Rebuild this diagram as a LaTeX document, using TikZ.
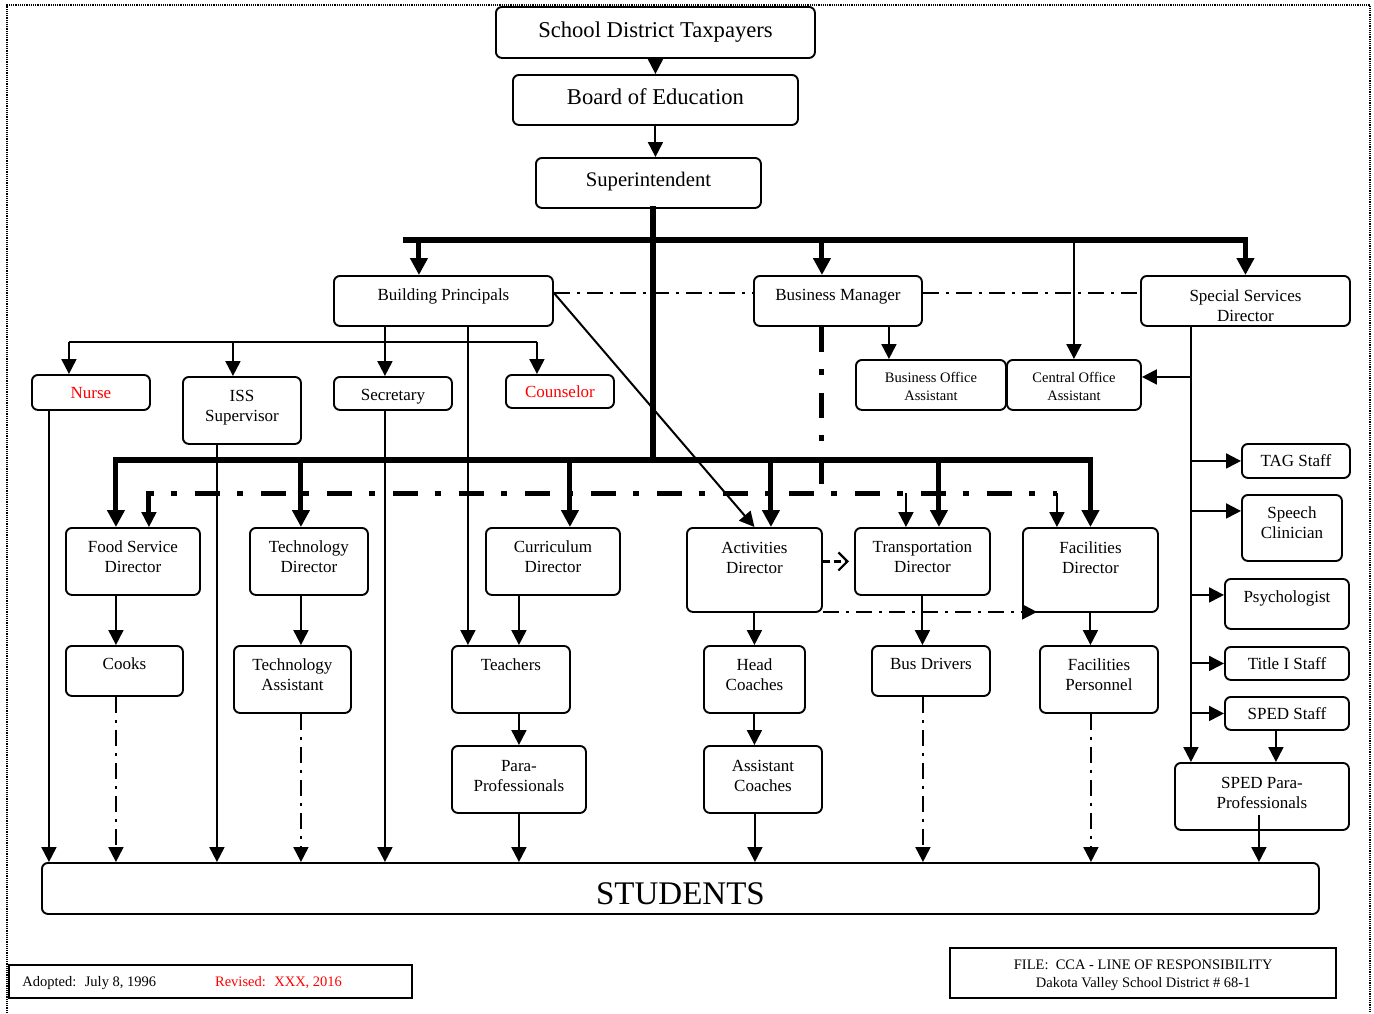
\documentclass[tikz,border=0pt]{standalone}
\usepackage{fontspec}
\setmainfont{Liberation Serif}
\usetikzlibrary{arrows.meta}

\newcommand{\bigfont}{\fontsize{22.6}{26}\selectfont}
\newcommand{\supfont}{\fontsize{20.7}{24}\selectfont}
\newcommand{\medfont}{\fontsize{17}{20}\selectfont}
\newcommand{\smlfont}{\fontsize{14.5}{18}\selectfont}
\newcommand{\stufont}{\fontsize{33}{38}\selectfont}

\begin{document}
\begin{tikzpicture}[x=1pt,y=-1pt,
  box/.style={draw, line width=1.9pt, rounded corners=6pt, align=center, inner sep=0pt,
    anchor=north west, font=\medfont, text height=25pt},
  footbox/.style={draw, line width=2.4pt, align=center, inner sep=0pt,
    anchor=north west, font=\smlfont, text height=21.5pt},
  ln/.style={line width=2pt},
  arr/.style={ln, -{Triangle[length=15pt,width=15pt]}},
  tarr/.style={line width=5pt, -{Triangle[length=17pt,width=17pt]}},
  bus/.style={line width=6pt, line cap=rect},
  dbus/.style={line width=5pt, dash pattern=on 25pt off 17pt on 6pt off 18pt},
  dd/.style={ln, dash pattern=on 16pt off 7pt on 3pt off 7pt},
  ddarr/.style={dd, -{Triangle[length=15pt,width=15pt]}},
  openarr/.style={line width=2.2pt, dash pattern=on 7pt off 4pt, shorten >=5pt,
    -{Straight Barb[length=9pt,width=18pt]}}]

\useasboundingbox (0,0) rectangle (1374,1013);
\draw[densely dotted, line width=1.2pt] (7,1013) -- (7,5) -- (1370,5) -- (1370,1013);

\coordinate (busA) at (653,240);
\coordinate (busB) at (653,460);
\coordinate (busC) at (653,493);
\coordinate (staffbus) at (384,342);

% top of the chart
\node[box, font=\bigfont, text height=31pt, text depth=20pt, minimum width=319pt] (tax) at (495,6) {School District Taxpayers};
\node[box, font=\bigfont, text height=30pt, text depth=20pt, minimum width=285pt] (board) at (512,74) {Board of Education};
\node[box, font=\supfont, text height=29pt, text depth=21pt, minimum width=225pt] (supt) at (535,157) {Superintendent};

\node[box, text depth=25pt, minimum width=219pt] (bp) at (333,275) {Building Principals};
\node[box, text depth=25pt, minimum width=168pt] (bm) at (753,275) {Business Manager};
\node[box, text height=46pt, text depth=4pt, minimum width=209pt] (ssd) at (1140,275) {Special Services\\Director};

\node[box, text=red, text height=24pt, text depth=11pt, minimum width=118pt] (nurse) at (31,374) {Nurse};
\node[box, text height=45pt, text depth=22pt, minimum width=118pt] (iss) at (182,376) {ISS\\Supervisor};
\node[box, text height=24pt, text depth=9pt, minimum width=118pt] (sec) at (333,376) {Secretary};
\node[box, text=red, text height=23pt, text depth=10pt, minimum width=108pt] (couns) at (505,374) {Counselor};

\node[box, font=\smlfont, text height=40.5pt, text depth=9.5pt, minimum width=150pt] (boa) at (855,359) {Business Office\\Assistant};
\node[box, font=\smlfont, text height=40.5pt, text depth=9.5pt, minimum width=134pt] (coa) at (1006,359) {Central Office\\Assistant};

\node[box, text height=23pt, text depth=11pt, minimum width=108pt] (tag) at (1241,443) {TAG Staff};
\node[box, text height=44pt, text depth=22pt, minimum width=100pt] (speech) at (1241,494) {Speech\\Clinician};
\node[box, text height=24pt, text depth=26pt, minimum width=124pt] (psych) at (1224,578) {Psychologist};
\node[box, text height=23pt, text depth=10pt, minimum width=124pt] (title) at (1224,646) {Title I Staff};
\node[box, text height=23pt, text depth=10pt, minimum width=124pt] (sped) at (1224,696) {SPED Staff};
\node[box, text height=46pt, text depth=21pt, minimum width=174pt] (spedpara) at (1174,762) {SPED Para-\\Professionals};

% directors
\node[box, text height=45pt, text depth=22pt, minimum width=134pt] (food) at (65,527) {Food Service\\Director};
\node[box, text height=45pt, text depth=22pt, minimum width=118pt] (techd) at (249,527) {Technology\\Director};
\node[box, text height=45pt, text depth=22pt, minimum width=134pt] (curr) at (485,527) {Curriculum\\Director};
\node[box, text height=46pt, text depth=38pt, minimum width=135pt] (act) at (686,527) {Activities\\Director};
\node[box, text height=45pt, text depth=22pt, minimum width=135pt] (trans) at (854,527) {Transportation\\Director};
\node[box, text height=46pt, text depth=38pt, minimum width=135pt] (facd) at (1022,527) {Facilities\\Director};

\node[box, text height=24pt, text depth=26pt, minimum width=117pt] (cooks) at (65,645) {Cooks};
\node[box, text height=45pt, text depth=22pt, minimum width=117pt] (techa) at (233,645) {Technology\\Assistant};
\node[box, text depth=42pt, minimum width=118pt] (teach) at (451,645) {Teachers};
\node[box, text height=45pt, text depth=22pt, minimum width=101pt] (head) at (703,645) {Head\\Coaches};
\node[box, text height=24pt, text depth=26pt, minimum width=118pt] (drivers) at (871,645) {Bus Drivers};
\node[box, text height=45pt, text depth=22pt, minimum width=118pt] (facp) at (1039,645) {Facilities\\Personnel};
\node[box, text height=46pt, text depth=21pt, minimum width=134pt] (para) at (451,745) {Para-\\Professionals};
\node[box, text height=46pt, text depth=21pt, minimum width=118pt] (asst) at (703,745) {Assistant\\Coaches};

\node[box, font=\stufont, text height=42pt, text depth=9pt, minimum width=1277pt] (students) at (41,862) {STUDENTS};

\node[footbox, text depth=11.5pt, minimum width=403pt] (adopted) at (8,964)
  {Adopted:~ July 8, 1996\hspace*{59pt}\textcolor{red}{Revised:~ XXX, 2016}\hspace*{57pt}};
\node[footbox, text height=39.5pt, text depth=10.5pt, minimum width=386pt] (file) at (949,947)
  {FILE:~ CCA - LINE OF RESPONSIBILITY\\Dakota Valley School District \# 68-1};

% line of authority
\draw[arr] (tax.south) -- (board.north);
\draw[arr] (board.south) -- (board.south |- supt.north);
\draw[bus] (supt.south -| busA) -- (busB);
\draw[bus] ([xshift=-37.5pt]bp.north |- busA) -- (ssd.north |- busA);
\draw[tarr] ([xshift=-24.5pt]bp.north |- busA) -- ([xshift=-24.5pt]bp.north);
\draw[tarr] ([xshift=-16pt]bm.north |- busA) -- ([xshift=-16pt]bm.north);
\draw[tarr] (ssd.north |- busA) -- (ssd.north);
\draw[arr] (coa.north |- busA) -- (coa.north);

% building principals
\draw[dd] ([yshift=8pt]bp.east) -- ([yshift=8pt]bm.west);
\draw[dd] ([yshift=8pt]bm.east) -- ([yshift=8pt]ssd.west);
\draw[ln] ([xshift=-22pt]nurse.north |- staffbus) -- ([xshift=-23pt]couns.north |- staffbus);
\draw[arr] ([xshift=-58.5pt]bp.south) -- ([xshift=-58.5pt]bp.south |- sec.north);
\draw[arr] ([xshift=-22pt]nurse.north |- staffbus) -- ([xshift=-22pt]nurse.north);
\draw[arr] ([xshift=-9pt]iss.north |- staffbus) -- ([xshift=-9pt]iss.north);
\draw[arr] ([xshift=-23pt]couns.north |- staffbus) -- ([xshift=-23pt]couns.north);
\draw[arr] ([xshift=24.5pt]bp.south) -- ([xshift=24.5pt]bp.south |- teach.north);
\draw[arr] ([yshift=8pt]bp.east) -- (act.north);

% business manager
\draw[dbus] ([xshift=-16pt]bm.south) -- ([xshift=-16pt]bm.south |- busC);
\draw[arr] ([xshift=51pt]bm.south) -- ([xshift=51pt]bm.south |- boa.north);

% special services
\coordinate (spine) at ([xshift=-54.5pt]ssd.south);
\draw[arr] (spine) -- (spine |- spedpara.north);
\draw[arr] ([yshift=8pt]coa.east -| spine) -- ([yshift=8pt]coa.east);
\draw[arr] (tag.west -| spine) -- (tag.west);
\draw[arr] ([yshift=17pt]speech.west -| spine) -- ([yshift=17pt]speech.west);
\draw[arr] ([yshift=9pt]psych.west -| spine) -- ([yshift=9pt]psych.west);
\draw[arr] (title.west -| spine) -- (title.west);
\draw[arr] (sped.west -| spine) -- (sped.west);
\draw[arr] ([xshift=-11pt]sped.south) -- ([xshift=-11pt]sped.south |- spedpara.north);

% directors
\draw[bus] ([xshift=-17pt]food.north |- busB) -- (facd.north |- busB);
\draw[tarr] ([xshift=-17pt]food.north |- busB) -- ([xshift=-17pt]food.north);
\draw[tarr] ([xshift=-8pt]techd.north |- busB) -- ([xshift=-8pt]techd.north);
\draw[tarr] ([xshift=17pt]curr.north |- busB) -- ([xshift=17pt]curr.north);
\draw[tarr] ([xshift=16.5pt]act.north |- busB) -- ([xshift=16.5pt]act.north);
\draw[tarr] ([xshift=16.5pt]trans.north |- busB) -- ([xshift=16.5pt]trans.north);
\draw[tarr] (facd.north |- busB) -- (facd.north);

\draw[dbus] ([xshift=16pt,yshift=14pt]food.north) |- ([xshift=-33.5pt]facd.north |- busC);
\draw[arr] ([xshift=16pt,yshift=14pt]food.north) -- ([xshift=16pt]food.north);
\draw[arr] ([xshift=-16.5pt]trans.north |- busC) -- ([xshift=-16.5pt]trans.north);
\draw[arr] ([xshift=-33.5pt]facd.north |- busC) -- ([xshift=-33.5pt]facd.north);

\draw[arr] ([xshift=-17pt]food.south) -- ([xshift=-17pt]food.south |- cooks.north);
\draw[arr] ([xshift=-8pt]techd.south) -- ([xshift=-8pt]techd.south |- techa.north);
\draw[arr] ([xshift=-34pt]curr.south) -- ([xshift=-34pt]curr.south |- teach.north);
\draw[arr] ([xshift=8pt]teach.south) -- ([xshift=8pt]teach.south |- para.north);
\draw[arr] (act.south) -- (act.south |- head.north);
\draw[arr] (head.south) -- (head.south |- asst.north);
\draw[arr] (trans.south) -- (trans.south |- drivers.north);
\draw[arr] (facd.south) -- (facd.south |- facp.north);
\draw[openarr] (act.east |- trans.west) -- (trans.west);
\draw[ddarr] ([yshift=1pt]act.south east) -- ([xshift=15pt,yshift=1pt]facd.south west);

% down to the students
\draw[arr] ([xshift=-42pt]nurse.south) -- ([xshift=-42pt]nurse.south |- students.north);
\draw[arr] ([xshift=-25pt]iss.south) -- ([xshift=-25pt]iss.south |- students.north);
\draw[arr] ([xshift=-8pt]sec.south) -- ([xshift=-8pt]sec.south |- students.north);
\draw[ddarr] ([xshift=-8.5pt]cooks.south) -- ([xshift=-8.5pt]cooks.south |- students.north);
\draw[ddarr] ([xshift=8.5pt]techa.south) -- ([xshift=8.5pt]techa.south |- students.north);
\draw[arr] (para.south) -- (para.south |- students.north);
\draw[arr] ([xshift=-8pt]asst.south) -- ([xshift=-8pt]asst.south |- students.north);
\draw[ddarr] ([xshift=-8pt]drivers.south) -- ([xshift=-8pt]drivers.south |- students.north);
\draw[ddarr] ([xshift=-8pt]facp.south) -- ([xshift=-8pt]facp.south |- students.north);
\draw[arr] ([xshift=-3pt,yshift=16pt]spedpara.south) -- ([xshift=-3pt]spedpara.south |- students.north);
\end{tikzpicture}
\end{document}
